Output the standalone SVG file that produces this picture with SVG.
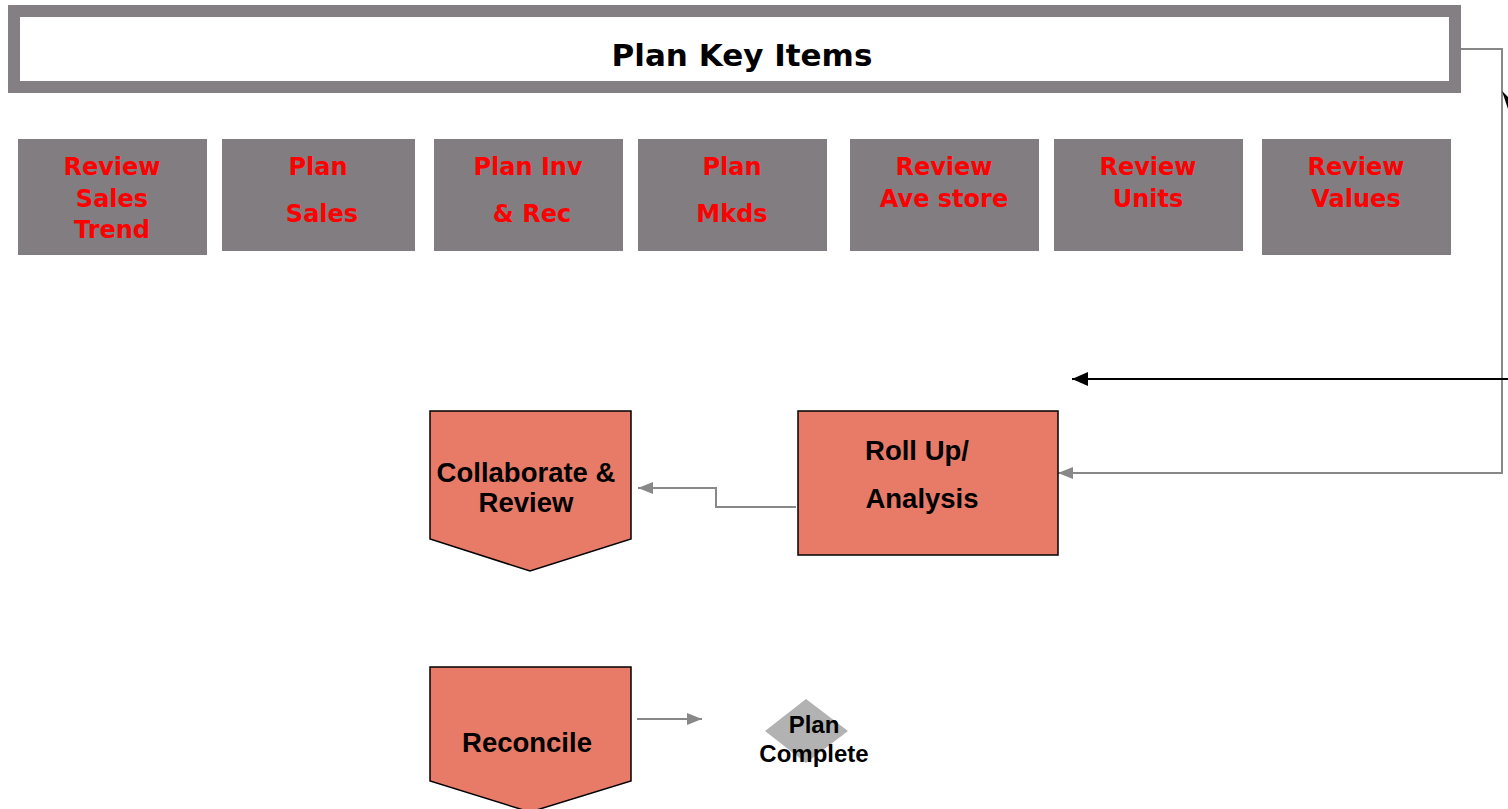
<svg xmlns="http://www.w3.org/2000/svg" width="1508" height="809" viewBox="0 0 1508 809">
  <style>
    .frame { fill: #ffffff; stroke: #847f83; stroke-width: 12; }
    .item { fill: #827d81; }
    .step { fill: #e87b68; stroke: #000000; stroke-width: 1.5; }
    .done { fill: #b2b2b2; }
    .red { font-family: "DejaVu Sans", Verdana, sans-serif; font-weight: bold; font-size: 24px; fill: #ff0000; text-anchor: middle; }
    .title { font-family: "DejaVu Sans", Verdana, sans-serif; font-weight: bold; font-size: 31px; fill: #000000; text-anchor: middle; }
    .lbl { font-family: "Liberation Sans", Arial, sans-serif; font-weight: bold; font-size: 27.5px; fill: #000000; text-anchor: middle; }
    .small { font-family: "Liberation Sans", Arial, sans-serif; font-weight: bold; font-size: 24px; fill: #000000; text-anchor: middle; }
    .gline { fill: none; stroke: #888888; stroke-width: 2; }
    .bline { fill: none; stroke: #000000; stroke-width: 2; }
  </style>
  <defs>
    <marker id="gArrow" viewBox="0 0 15 12" refX="15" refY="6" markerWidth="15" markerHeight="12" markerUnits="userSpaceOnUse" orient="auto">
      <path d="M0,0 L15,6 L0,12 Z" fill="#888888"/>
    </marker>
    <marker id="bArrow" viewBox="0 0 16 14" refX="16" refY="7" markerWidth="16" markerHeight="14" markerUnits="userSpaceOnUse" orient="auto">
      <path d="M0,0 L16,7 L0,14 Z" fill="#000000"/>
    </marker>
  </defs>

  <rect width="1508" height="809" fill="#ffffff"/>

  <!-- connectors -->
  <g id="connectors">
    <polyline class="gline" points="1455,49 1502,49 1502,473 1058,473" marker-end="url(#gArrow)"/>
    <line class="bline" x1="1508" y1="379" x2="1072" y2="379" marker-end="url(#bArrow)"/>
    <polygon points="1502,91 1509,98 1509,112" fill="#000000"/>
    <polyline class="gline" points="796,507 716,507 716,488 638,488" marker-end="url(#gArrow)"/>
    <line class="gline" x1="637" y1="719" x2="702" y2="719" marker-end="url(#gArrow)"/>
  </g>

  <!-- header -->
  <g id="plan-key-items">
    <rect class="frame" x="14" y="11" width="1441" height="76"/>
    <text class="title" x="742" y="66">Plan Key Items</text>
  </g>

  <!-- key item tiles -->
  <g id="review-sales-trend">
    <rect class="item" x="18" y="139" width="189" height="116"/>
    <text class="red" x="112" y="175">Review</text>
    <text class="red" x="112" y="207">Sales</text>
    <text class="red" x="112" y="238">Trend</text>
  </g>
  <g id="plan-sales">
    <rect class="item" x="222" y="139" width="193" height="112"/>
    <text class="red" x="318" y="175">Plan</text>
    <text class="red" x="322" y="222">Sales</text>
  </g>
  <g id="plan-inv-rec">
    <rect class="item" x="434" y="139" width="189" height="112"/>
    <text class="red" x="528" y="175">Plan Inv</text>
    <text class="red" x="532" y="222">&amp; Rec</text>
  </g>
  <g id="plan-mkds">
    <rect class="item" x="638" y="139" width="189" height="112"/>
    <text class="red" x="732" y="175">Plan</text>
    <text class="red" x="732" y="222">Mkds</text>
  </g>
  <g id="review-ave-store">
    <rect class="item" x="850" y="139" width="189" height="112"/>
    <text class="red" x="944" y="175">Review</text>
    <text class="red" x="944" y="207">Ave store</text>
  </g>
  <g id="review-units">
    <rect class="item" x="1054" y="139" width="189" height="112"/>
    <text class="red" x="1148" y="175">Review</text>
    <text class="red" x="1148" y="207">Units</text>
  </g>
  <g id="review-values">
    <rect class="item" x="1262" y="139" width="189" height="116"/>
    <text class="red" x="1356" y="175">Review</text>
    <text class="red" x="1356" y="207">Values</text>
  </g>

  <!-- process steps -->
  <g id="collaborate-review">
    <polygon class="step" points="430,411 631,411 631,539 530,571 430,539"/>
    <text class="lbl" x="526" y="482">Collaborate &amp;</text>
    <text class="lbl" x="526" y="512">Review</text>
  </g>
  <g id="roll-up-analysis">
    <rect class="step" x="798" y="411" width="260" height="144"/>
    <text class="lbl" x="917" y="460">Roll Up/</text>
    <text class="lbl" x="922" y="508">Analysis</text>
  </g>
  <g id="reconcile">
    <polygon class="step" points="430,667 631,667 631,781 530,812 430,781"/>
    <text class="lbl" x="527" y="752">Reconcile</text>
  </g>
  <g id="plan-complete">
    <polygon class="done" points="806,699 848,731 806,763 765,731"/>
    <text class="small" x="814" y="733">Plan</text>
    <text class="small" x="814" y="762">Complete</text>
  </g>
</svg>
